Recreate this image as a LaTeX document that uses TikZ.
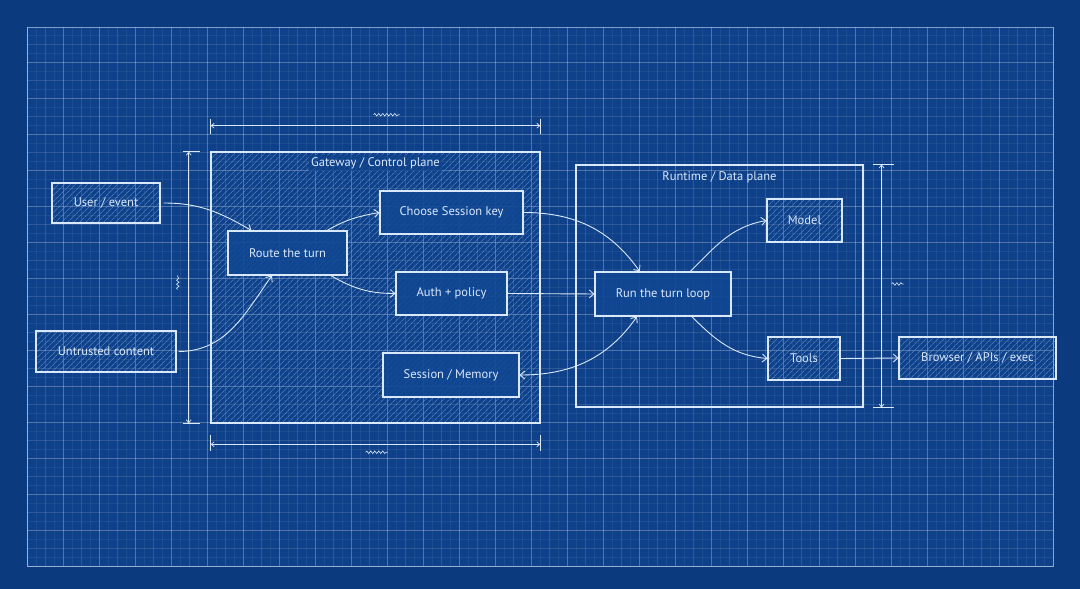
\documentclass[tikz,border=0pt]{standalone}
\usepackage{fontspec}
\setmainfont{PT Sans}
\usetikzlibrary{arrows.meta, calc, patterns.meta, decorations.pathmorphing}
\definecolor{paper}{HTML}{0E4189}
\definecolor{paperdk}{HTML}{0C3A7E}
\definecolor{chalk}{HTML}{D9E8FB}
\definecolor{hatchc}{HTML}{6592D0}
\definecolor{boxfill}{HTML}{114792}
\newcommand{\LabelF}{\fontsize{12.5}{15}\selectfont}

\begin{document}
\begin{tikzpicture}[x=1pt,y=1pt,
  box/.style={draw=chalk, line width=1.1pt, text=chalk, font=\LabelF, inner sep=0pt,
    fill=boxfill, fill opacity=0.9, text opacity=1},
  hbox/.style={draw=chalk, line width=1.1pt, text=chalk, font=\LabelF, inner sep=0pt,
    pattern={Lines[angle=45,distance=4pt,line width=0.55pt]}, pattern color=hatchc},
  title/.style={font=\LabelF, text=chalk, fill=paper, fill opacity=0.75, text opacity=1, inner sep=2pt},
  flow/.style={draw=chalk, line width=0.9pt, -{Straight Barb[length=4.5pt,width=8pt]}},
  dimline/.style={draw=chalk, line width=0.7pt,
    {Straight Barb[length=3pt,width=5pt]}-{Straight Barb[length=3pt,width=5pt]}},
  dimtick/.style={draw=chalk, line width=0.7pt},
  scrib/.style={draw=chalk, line width=0.6pt, decorate,
    decoration={snake, amplitude=1.3pt, segment length=4pt}}
]
\useasboundingbox (0,0) rectangle (1080,589);
% sheet and grid
\fill[paperdk] (0,0) rectangle (1080,589);
\fill[paper] (27,23) rectangle (1053,562);
\foreach \gx in {27,36,...,1053} \draw[white, opacity=0.06, line width=0.5pt] (\gx,23) -- (\gx,562);
\foreach \gy in {23,32,...,562} \draw[white, opacity=0.06, line width=0.5pt] (27,\gy) -- (1053,\gy);
\foreach \gx in {27,45,...,1053} \draw[white, opacity=0.07, line width=0.6pt] (\gx,23) -- (\gx,562);
\foreach \gy in {23,41,...,562} \draw[white, opacity=0.07, line width=0.6pt] (27,\gy) -- (1053,\gy);
\foreach \gx in {27,63,...,1053} \draw[white, opacity=0.17, line width=0.8pt] (\gx,23) -- (\gx,562);
\foreach \gy in {23,59,...,562} \draw[white, opacity=0.17, line width=0.8pt] (27,\gy) -- (1053,\gy);
\draw[chalk, opacity=0.55, line width=0.9pt] (27,23) rectangle (1053,562);

% planes
\node[hbox, minimum width=329pt, minimum height=271pt] (gw) at (375.5,301.5) {};
\node[title] (gwlabel) at (375.5,426) {Gateway / Control plane};
\node[draw=chalk, line width=1.1pt, minimum width=287pt, minimum height=242pt, inner sep=0pt] (rt) at (719.5,303) {};
\node[title, fill=none] (rtlabel) at (719.5,412) {Runtime / Data plane};

% inputs
\node[hbox, minimum width=108pt, minimum height=40pt] (user) at (106,386) {User / event};
\node[hbox, minimum width=140pt, minimum height=41pt] (untrusted) at (106,237.5) {Untrusted content};

% gateway steps
\node[box, minimum width=119pt, minimum height=44pt] (route) at (287.5,336) {Route the turn};
\node[box, minimum width=143pt, minimum height=43pt] (choose) at (451.5,376.5) {Choose Session key};
\node[box, minimum width=111pt, minimum height=43pt] (auth) at (451.5,295.5) {Auth + policy};
\node[box, minimum width=136pt, minimum height=44pt] (session) at (451,214) {Session / Memory};

% runtime steps
\node[box, minimum width=136pt, minimum height=44pt] (run) at (663,295) {Run the turn loop};
\node[hbox, minimum width=75pt, minimum height=43pt] (model) at (804.5,368.5) {Model};
\node[hbox, minimum width=72pt, minimum height=43pt] (tools) at (804,230.5) {Tools};
\node[hbox, minimum width=157pt, minimum height=42pt] (browser) at (977.5,231) {Browser / APIs / exec};

% flows
\draw[flow] ([xshift=3pt]user.east) to[out=0, in=150] ($(route.north west)!0.2!(route.north east)$);
\draw[flow] ([xshift=2pt]untrusted.east) to[out=0, in=235] ($(route.south west)!0.37!(route.south east)$);
\draw[flow] ($(route.north west)!0.83!(route.north east)$) to[out=30, in=190] (choose.west);
\draw[flow] ($(route.south west)!0.86!(route.south east)$) to[out=-30, in=180] (auth.west);
\draw[flow] (choose.east) to[out=0, in=125] ($(run.north west)!0.33!(run.north east)$);
\draw[flow] (auth.east) -- (run.west);
\draw[flow, {Straight Barb[length=4.5pt,width=8pt]}-{Straight Barb[length=4.5pt,width=8pt]}]
  (session.east) to[out=0, in=235] ($(run.south west)!0.31!(run.south east)$);
\draw[flow] ($(run.north west)!0.7!(run.north east)$) to[out=45, in=190] (model.west);
\draw[flow] ($(run.south west)!0.71!(run.south east)$) to[out=-45, in=175] (tools.west);
\draw[flow] (tools.east) -- (browser.west);

% dimensions
\draw[dimline] ($(gw.north west)+(0,26)$) -- ($(gw.north east)+(0,26)$);
\draw[dimtick] ($(gw.north west)+(0,18)$) -- ($(gw.north west)+(0,33)$);
\draw[dimtick] ($(gw.north east)+(0,18)$) -- ($(gw.north east)+(0,33)$);
\draw[scrib] ($(gw.north)+(-2,37)$) -- ($(gw.north)+(24,37)$);
\draw[dimline] ($(gw.south west)+(0,-21)$) -- ($(gw.south east)+(0,-21)$);
\draw[dimtick] ($(gw.south west)+(0,-12)$) -- ($(gw.south west)+(0,-28)$);
\draw[dimtick] ($(gw.south east)+(0,-12)$) -- ($(gw.south east)+(0,-28)$);
\draw[scrib] ($(gw.south)+(-10,-29)$) -- ($(gw.south)+(12,-29)$);
\draw[dimline] ($(gw.north west)+(-22,0)$) -- ($(gw.south west)+(-22,0)$);
\draw[dimtick] ($(gw.north west)+(-28,0)$) -- ($(gw.north west)+(-11,0)$);
\draw[dimtick] ($(gw.south west)+(-28,0)$) -- ($(gw.south west)+(-11,0)$);
\draw[scrib] ($(gw.west)+(-33,-2)$) -- ($(gw.west)+(-33,12)$);
\draw[dimline] ($(rt.north east)+(18,0)$) -- ($(rt.south east)+(18,0)$);
\draw[dimtick] ($(rt.north east)+(9,0)$) -- ($(rt.north east)+(30,0)$);
\draw[dimtick] ($(rt.south east)+(9,0)$) -- ($(rt.south east)+(30,0)$);
\draw[scrib] ($(rt.east)+(28,2)$) -- ($(rt.east)+(40,2)$);
\end{tikzpicture}
\end{document}
